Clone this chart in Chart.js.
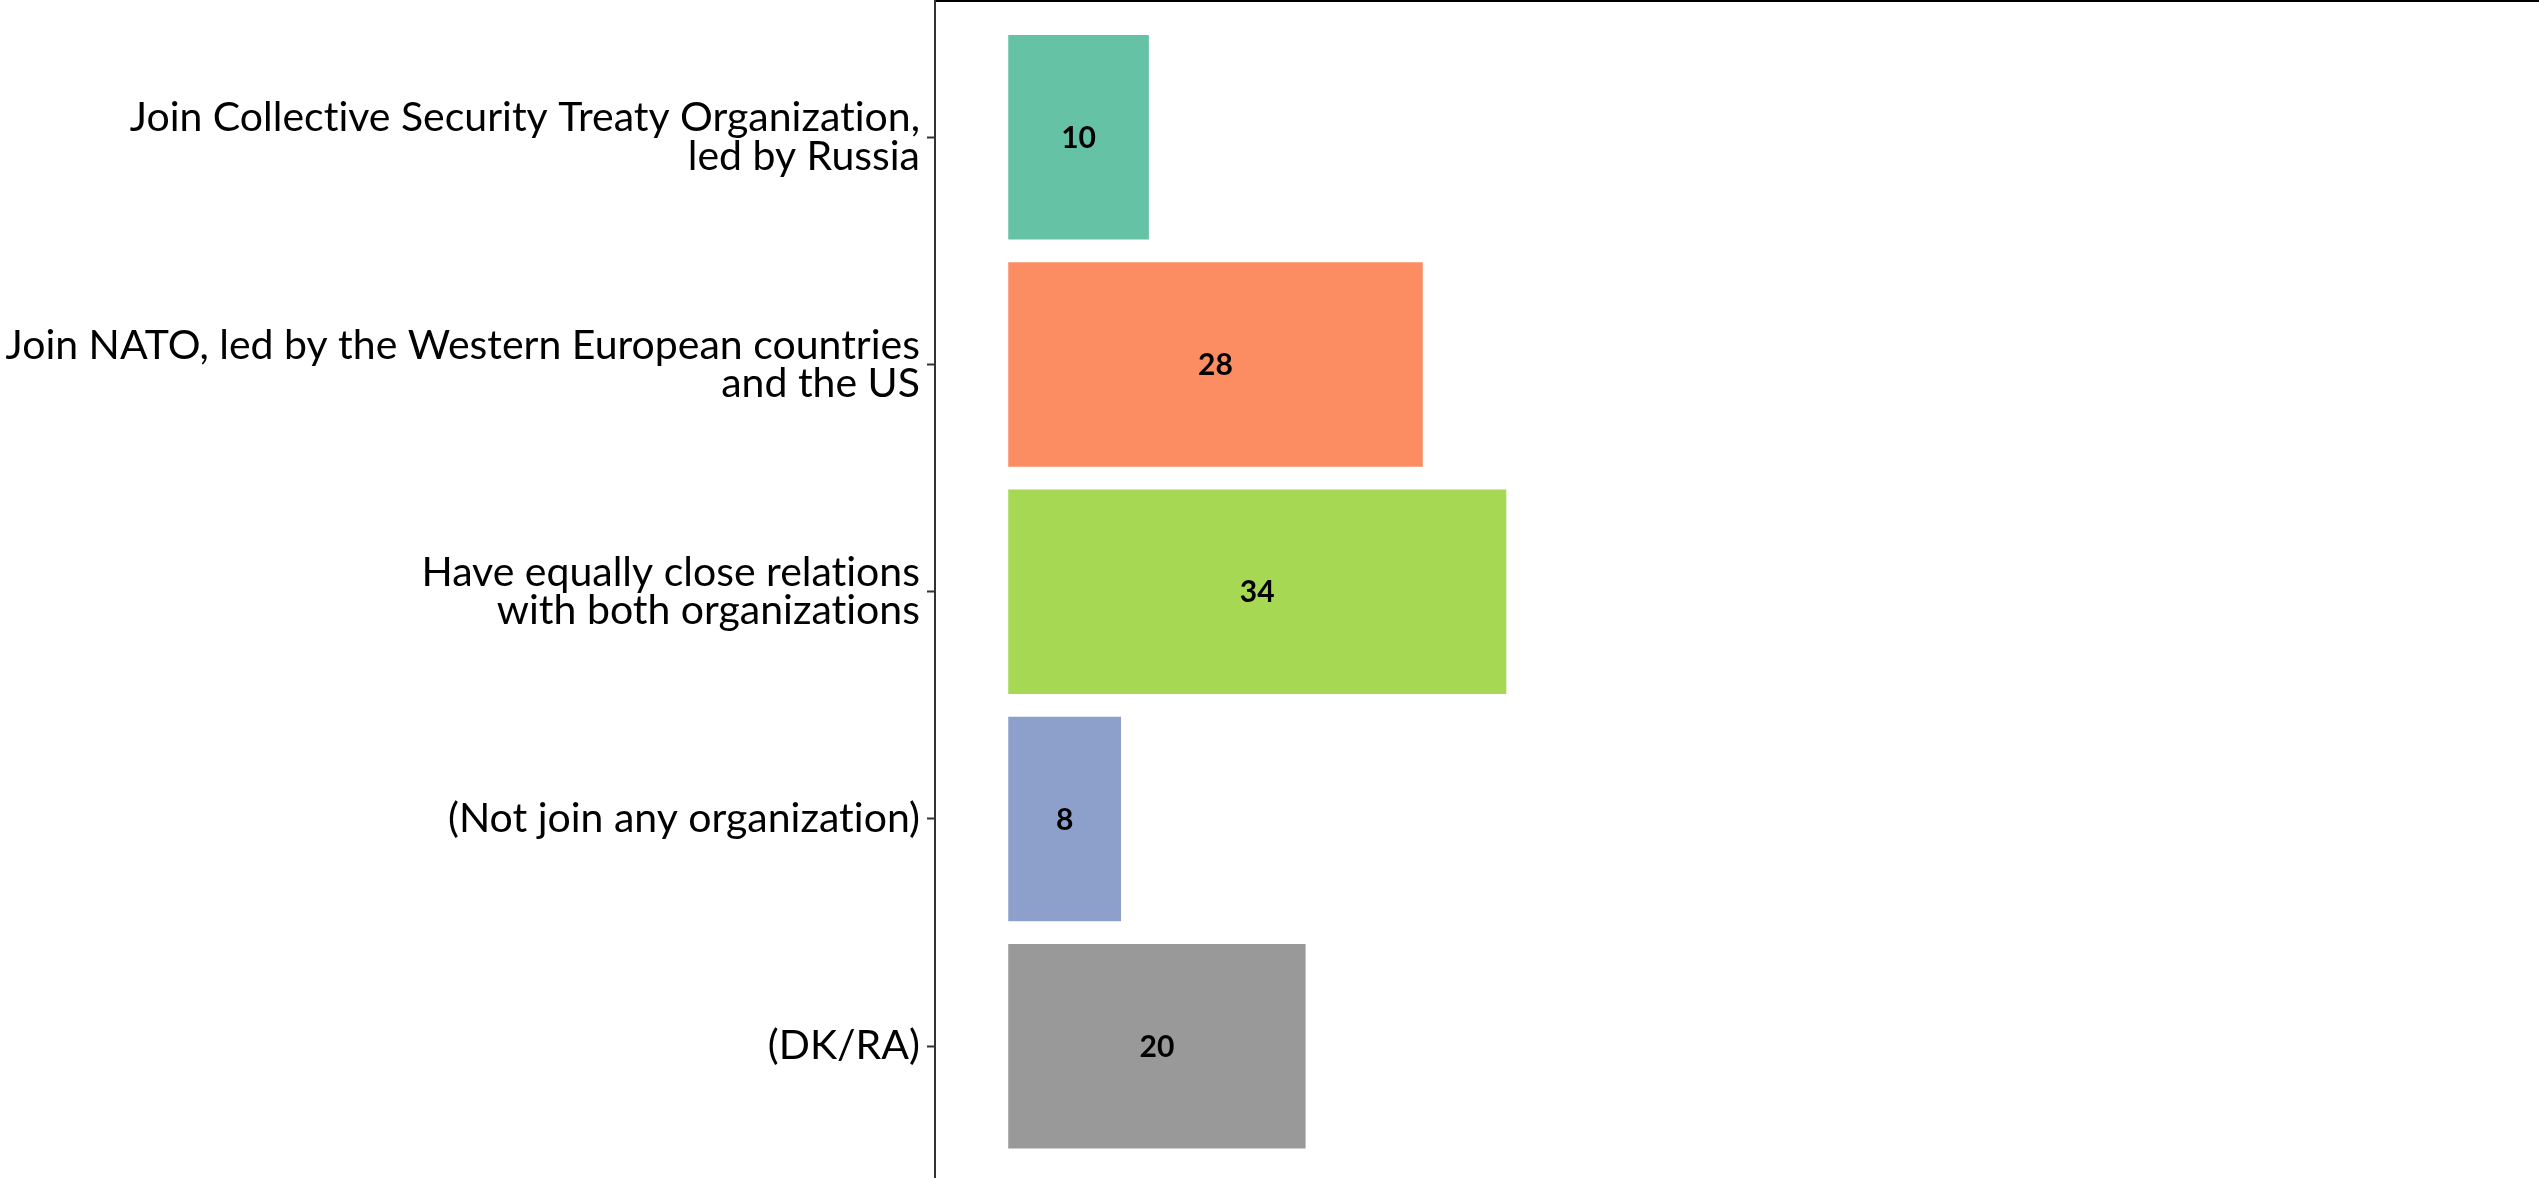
<!DOCTYPE html>
<html>
<head>
<meta charset="utf-8">
<script src="https://cdn.jsdelivr.net/npm/chart.js@4"></script>
<style>
  html, body { margin: 0; padding: 0; background: #fff; overflow: hidden; }
  canvas { display: block; }
</style>
</head>
<body>
<canvas id="chart" width="2539" height="1178"></canvas>
<script>
// Category labels (multi-line where the original wraps)
const categories = [
    ['Join Collective Security Treaty Organization,', 'led by Russia'],
    ['Join NATO, led by the Western European countries', 'and the US'],
    ['Have equally close relations', 'with both organizations'],
    '(Not join any organization)',
    '(DK/RA)'
];

// Share of respondents, %
const values = [9.6, 28.3, 34.0, 7.7, 20.3];

// Set2-like palette plus grey for DK/RA
const barColors = ['#66c2a5', '#fc8d62', '#a6d854', '#8da0cb', '#999999'];

const labelFont = "Lato, 'Open Sans', sans-serif";

/**
 * Writes the rounded value in the middle of each bar
 */
const barValueLabels = {
    id: 'barValueLabels',
    beforeDraw(chart) {
        // avoid the "ti" ligature, closer to the original typeface
        chart.ctx.textRendering = 'optimizeSpeed';
    },
    afterDatasetsDraw(chart) {
        const ctx = chart.ctx;
        const meta = chart.getDatasetMeta(0);
        ctx.save();
        ctx.font = `bold 30px ${labelFont}`;
        ctx.fillStyle = '#000';
        ctx.textAlign = 'center';
        ctx.textBaseline = 'middle';
        meta.data.forEach((bar, i) => {
            const cx = (bar.x + bar.base) / 2;
            ctx.fillText(String(Math.round(values[i])), cx, bar.y + 1);
        });
        ctx.restore();
    }
};

const ctx = document.getElementById('chart').getContext('2d');

new Chart(ctx, {
    type: 'bar',
    data: {
        datasets: [{
            data: values.map((v, i) => ({ x: v, y: i })),
            backgroundColor: barColors,
            borderWidth: 0,
            barPercentage: 0.9,
            categoryPercentage: 1.0
        }]
    },
    options: {
        indexAxis: 'y',
        responsive: false,
        animation: false,
        layout: { padding: 0 },
        plugins: {
            legend: { display: false },
            tooltip: { enabled: false }
        },
        scales: {
            x: {
                type: 'linear',
                position: 'top',
                min: -5,
                max: 104.5,
                offset: false,
                grid: { display: false },
                ticks: { display: false },
                border: { display: true, color: '#000', width: 2 },
                afterFit: (scale) => {
                    scale.height = 1;
                    scale.paddingLeft = 0;
                    scale.paddingRight = 0;
                }
            },
            y: {
                type: 'linear',
                reverse: true,
                min: -0.6,
                max: 4.58,
                offset: false,
                afterBuildTicks: (scale) => {
                    scale.ticks = categories.map((c, i) => ({ value: i }));
                },
                afterFit: (scale) => {
                    scale.width = 935;
                    scale.paddingTop = 0;
                    scale.paddingBottom = 0;
                },
                grid: {
                    display: true,
                    offset: false,
                    drawOnChartArea: false,
                    drawTicks: true,
                    tickLength: 8,
                    tickColor: '#333',
                    tickWidth: 2
                },
                border: { display: true, color: '#333', width: 2 },
                ticks: {
                    autoSkip: false,
                    padding: 7,
                    color: '#000',
                    font: { family: labelFont, size: 41, lineHeight: 0.93 },
                    callback: (value) => categories[value]
                }
            }
        }
    },
    plugins: [barValueLabels]
});
</script>
</body>
</html>
